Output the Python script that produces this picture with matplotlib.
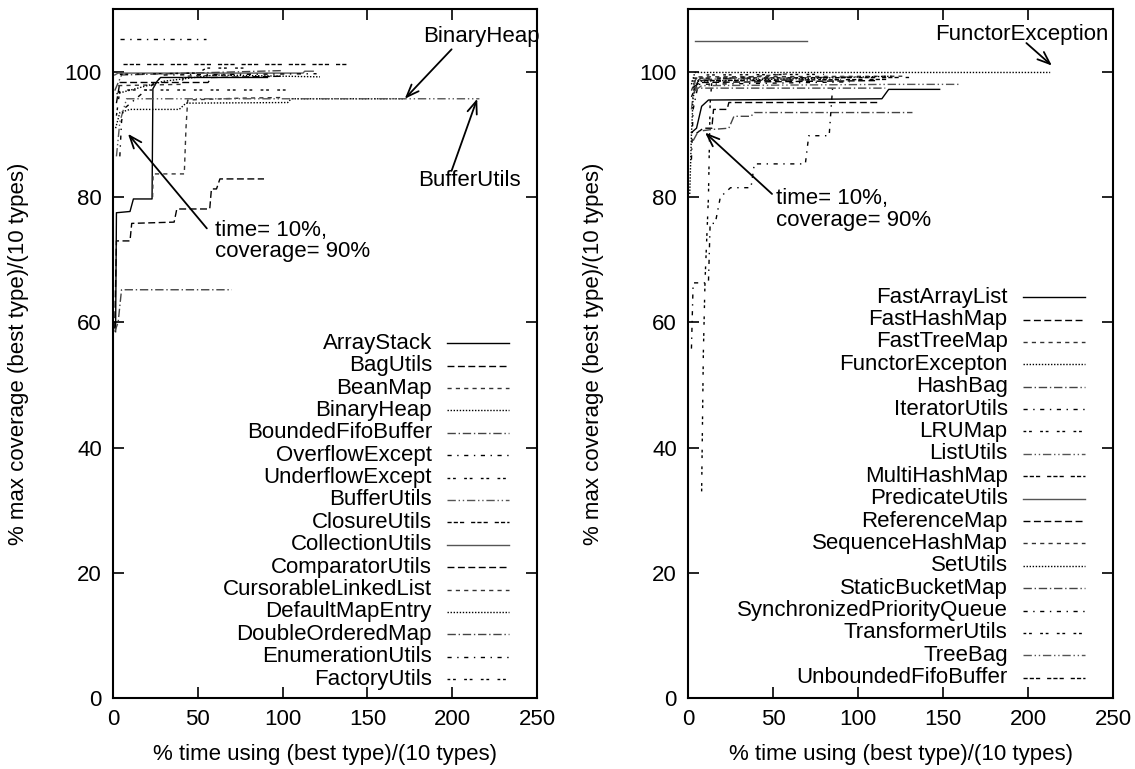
import matplotlib
matplotlib.use('Agg')
import matplotlib.pyplot as plt

plt.rcParams['font.family'] = ['Liberation Sans', 'DejaVu Sans']

# ---- data: left panel ----
left_names = ['ArrayStack', 'BagUtils', 'BeanMap', 'BinaryHeap', 'BoundedFifoBuffer',
              'OverflowExcept', 'UnderflowExcept', 'BufferUtils', 'ClosureUtils',
              'CollectionUtils', 'ComparatorUtils', 'CursorableLinkedList',
              'DefaultMapEntry', 'DoubleOrderedMap', 'EnumerationUtils', 'FactoryUtils']
left_x = [
    [1.5, 2, 10, 12, 23, 23.5, 26, 28, 91],
    [1, 2, 10, 11, 36, 37.6, 57, 58, 61, 63, 89],
    [23.3, 23.6, 42, 43, 44, 75, 100],
    [1.5, 4, 10, 39, 43, 103, 105, 172],
    [1, 3, 5, 70],
    [4, 55],
    [2, 4, 103],
    [2, 4, 8, 216],
    [6, 138],
    [1, 3, 112, 113, 118],
    [2, 4, 56, 58, 100],
    [3, 40, 42, 70],
    [2, 30, 60, 122],
    [1, 5, 100],
    [4, 5, 6, 30, 120],
    [4, 50, 55, 80],
]
left_y = [
    [58.5, 77.5, 77.7, 79.7, 79.7, 97.3, 98.5, 99.1, 99.1],
    [59, 73, 73, 75.8, 76, 78.1, 78.1, 81.3, 81.3, 82.9, 82.9],
    [80, 83.7, 83.7, 91, 95.5, 95.8, 95.9],
    [91, 93.5, 94, 94, 95, 95.1, 95.7, 95.7],
    [58.5, 60, 65.2, 65.2],
    [105.3, 105.3],
    [93, 97.1, 97.1],
    [86.5, 92, 95.7, 95.7],
    [101.3, 101.3],
    [99.5, 99.8, 99.8, 100.1, 100.1],
    [95, 98.3, 98.3, 99.1, 99.3],
    [97.8, 98, 99.3, 99.5],
    [96.5, 98.5, 99.5, 99.2],
    [97, 99.5, 100.2],
    [86.5, 92, 94, 99.5, 99.7],
    [99.6, 99.8, 100.6, 100.6],
]

# ---- data: right panel ----
right_names = ['FastArrayList', 'FastHashMap', 'FastTreeMap', 'FunctorExcepton', 'HashBag',
               'IteratorUtils', 'LRUMap', 'ListUtils', 'MultiHashMap', 'PredicateUtils',
               'ReferenceMap', 'SequenceHashMap', 'SetUtils', 'StaticBucketMap',
               'SynchronizedPriorityQueue', 'TransformerUtils', 'TreeBag',
               'UnboundedFifoBuffer']
right_x = [
    [2, 5, 8, 12, 114, 118, 148],
    [5, 9, 14, 15, 23, 24, 113],
    [2, 5, 126],
    [2, 4, 213],
    [3, 6, 14, 24, 27, 37, 39, 132],
    [2, 3, 12, 13, 16, 19, 25, 37, 39, 69, 71, 83, 85],
    [3, 10, 80],
    [2, 4, 100],
    [2, 6, 120],
    [4, 70],
    [3, 7, 110],
    [2, 60],
    [1, 2, 3, 6, 120],
    [3, 5, 116],
    [2, 3, 6, 95],
    [8, 9, 10, 12, 13, 14, 90],
    [4, 8, 120, 160],
    [3, 130],
]
right_y = [
    [90.3, 91, 94.5, 95.5, 95.7, 97.2, 97.2],
    [90.2, 91, 91, 94, 94, 95.1, 95.1],
    [97, 99.2, 99.3],
    [98, 99.9, 99.9],
    [89, 90.5, 90.8, 91, 92.9, 92.9, 93.5, 93.5],
    [55.8, 66.3, 66.3, 75.8, 75.8, 80, 81.5, 81.5, 85.3, 85.3, 89.8, 89.8, 97.4],
    [98, 99.5, 99.6],
    [94, 98.8, 99.2],
    [96, 98.6, 98.8],
    [105, 105],
    [97.5, 98.3, 98.6],
    [98.5, 99.7],
    [80.5, 90, 96, 98.5, 99.3],
    [96.5, 97.4, 97.4],
    [86, 94, 98, 98.4],
    [33, 55, 66.7, 80, 95, 98.5, 98.8],
    [97, 97.8, 98, 98],
    [99, 99.1],
]

# gnuplot-like monochrome line types, cycled
styles = [
    ('-', '#000000'),
    ((0, (5, 2.5)), '#000000'),
    ((0, (3, 3)), '#333333'),
    ((0, (1, 1.2)), '#000000'),
    ((0, (6, 2, 1, 2)), '#444444'),
    ((0, (3, 4, 1, 4)), '#000000'),
    ((0, (2, 2, 2, 6)), '#000000'),
    ((0, (6, 2, 1, 2, 1, 2)), '#555555'),
    ((0, (3, 1.5, 3, 1.5, 3, 5)), '#000000'),
    ('-', '#555555'),
]
FS = 16


def style_for(i):
    if i == 9:
        return styles[9]
    return styles[i % 9]


def draw_panel(ax, names, xs, ys, leg_top):
    for i, name in enumerate(names):
        ls, col = style_for(i)
        ax.plot(xs[i], ys[i], linestyle=ls, color=col, lw=1.0)
        # gnuplot style key: right-aligned text, sample on the right
        yk = leg_top - i * 0.0325
        ax.text(0.752, yk, name, transform=ax.transAxes, ha='right', va='center',
                fontsize=FS)
        ax.plot([0.788, 0.934], [yk, yk], transform=ax.transAxes,
                linestyle=ls, color=col, lw=1.0)
    ax.set_xlim(0, 250)
    ax.set_ylim(0, 110)
    ax.set_xticks([0, 50, 100, 150, 200, 250])
    ax.set_yticks([0, 20, 40, 60, 80, 100])
    ax.tick_params(direction='in', length=8, width=1.2, top=True, right=True,
                   labelsize=FS, pad=8)
    for s in ax.spines.values():
        s.set_linewidth(1.5)
    ax.set_xlabel('% time using (best type)/(10 types)', fontsize=FS, labelpad=10)
    ax.set_ylabel('% max coverage (best type)/(10 types)', fontsize=FS, labelpad=26)


fig = plt.figure(figsize=(11.35, 7.69), dpi=100)
ax1 = fig.add_axes([0.0996, 0.0923, 0.3736, 0.8957])
ax2 = fig.add_axes([0.6062, 0.0923, 0.3745, 0.8957])

draw_panel(ax1, left_names, left_x, left_y, 0.515)
draw_panel(ax2, right_names, right_x, right_y, 0.582)

arrow = dict(arrowstyle='->,head_length=0.9,head_width=0.35', color='black', lw=1.3,
             shrinkA=0, shrinkB=0)

# left annotations
ax1.text(217, 105.7, 'BinaryHeap', ha='center', va='center', fontsize=FS)
ax1.annotate('', xy=(172, 95.7), xytext=(199.6, 103.6), arrowprops=arrow)
ax1.text(210, 82.6, 'BufferUtils', ha='center', va='center', fontsize=FS)
ax1.annotate('', xy=(214.7, 95.7), xytext=(199.6, 84.2), arrowprops=arrow)
ax1.text(60, 73, 'time= 10%,\ncoverage= 90%', ha='left', va='center',
         fontsize=FS, linespacing=1.05)
ax1.annotate('', xy=(8.8, 90.1), xytext=(55.3, 75), arrowprops=arrow)

# right annotations
ax2.text(196.5, 106, 'FunctorException', ha='center', va='center', fontsize=FS)
ax2.annotate('', xy=(214, 101), xytext=(199, 104.6), arrowprops=arrow)
ax2.text(52, 78, 'time= 10%,\ncoverage= 90%', ha='left', va='center',
         fontsize=FS, linespacing=1.05)
ax2.annotate('', xy=(10, 90.3), xytext=(49.4, 80.5), arrowprops=arrow)

fig.savefig('out.png', dpi=100)
